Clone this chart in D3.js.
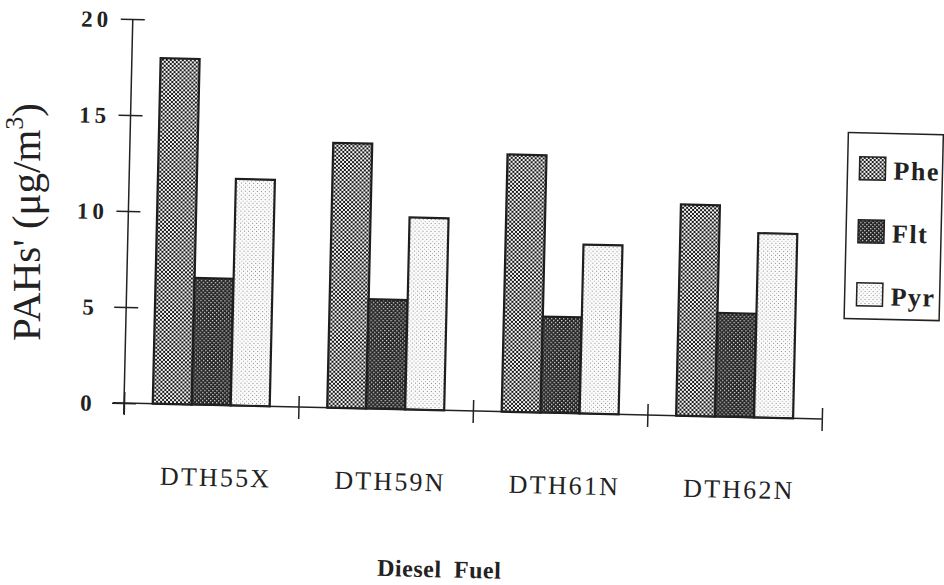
<!DOCTYPE html>
<html>
<head>
<meta charset="utf-8">
<script src="https://cdn.jsdelivr.net/npm/d3@7"></script>
<style>
  html, body { margin: 0; padding: 0; background: #ffffff; }
  svg { display: block; }
</style>
</head>
<body>
<script>
// ---- data ----
const categories = ["DTH55X", "DTH59N", "DTH61N", "DTH62N"];
const seriesNames = ["Phe", "Flt", "Pyr"];
const pheValues = [18.0, 13.8, 13.4, 11.0];
const fltValues = [6.6, 5.7, 5.0, 5.4];
const pyrValues = [11.8, 10.0, 8.8, 9.6];
const yTickValues = [0, 5, 10, 15, 20];
const yTickLabels = ["0", "5", "10", "15", "20"];
const yTitle = "PAHs' (\u03bcg/m";
const xTitle = "Diesel Fuel";

const seriesValues = { Phe: pheValues, Flt: fltValues, Pyr: pyrValues };

const W = 944, H = 585;
const serif = "'Liberation Serif', 'DejaVu Serif', serif";
const svg = d3.select("body").append("svg").attr("width", W).attr("height", H);

// ---- patterns ----
const defs = svg.append("defs");
const pPhe = defs.append("pattern").attr("id", "pat-Phe").attr("patternUnits", "userSpaceOnUse")
  .attr("width", 4).attr("height", 4);
pPhe.append("rect").attr("width", 4).attr("height", 4).attr("fill", "#f4f4f4");
pPhe.append("rect").attr("x", 0).attr("y", 0).attr("width", 2).attr("height", 2).attr("fill", "#1a1a1a");
pPhe.append("rect").attr("x", 2).attr("y", 2).attr("width", 2).attr("height", 2).attr("fill", "#1a1a1a");
const pFlt = defs.append("pattern").attr("id", "pat-Flt").attr("patternUnits", "userSpaceOnUse")
  .attr("width", 4).attr("height", 4);
pFlt.append("rect").attr("width", 4).attr("height", 4).attr("fill", "#222");
pFlt.append("rect").attr("x", 0).attr("y", 0).attr("width", 1.3).attr("height", 1.3).attr("fill", "#ddd");
pFlt.append("rect").attr("x", 2).attr("y", 2).attr("width", 1.3).attr("height", 1.3).attr("fill", "#ddd");
const pPyr = defs.append("pattern").attr("id", "pat-Pyr").attr("patternUnits", "userSpaceOnUse")
  .attr("width", 4).attr("height", 4);
pPyr.append("rect").attr("width", 4).attr("height", 4).attr("fill", "#fbfbfb");
pPyr.append("rect").attr("x", 0).attr("y", 0).attr("width", 1).attr("height", 1).attr("fill", "#888");
pPyr.append("rect").attr("x", 2).attr("y", 2).attr("width", 1).attr("height", 1).attr("fill", "#b0b0b0");

// ---- frame (scan is slightly rotated) ----
const x0 = 124, y0 = 403;
const g = svg.append("g").attr("transform", `rotate(1.31, ${x0}, ${y0})`);

const x = d3.scaleBand().domain(categories).range([124, 822]).padding(0);
const xs = d3.scaleBand().domain(seriesNames).range([0, x.bandwidth()])
  .paddingInner(0).paddingOuter(0.737);
const y = d3.scaleLinear().domain([0, 20]).range([403, 19]);
const xIdx = d3.scaleLinear().domain([0, categories.length]).range([124, 822]);

// ---- bars ----
const groups = g.append("g").selectAll("g").data(categories).join("g")
  .attr("transform", d => `translate(${x(d)},0)`);
groups.selectAll("rect")
  .data((c, i) => seriesNames.map(s => ({ s, v: seriesValues[s][i] })))
  .join("rect")
  .attr("x", d => xs(d.s))
  .attr("y", d => y(d.v))
  .attr("width", xs.bandwidth())
  .attr("height", d => y(0) - y(d.v))
  .attr("fill", d => `url(#pat-${d.s})`)
  .attr("stroke", "#1e1e1e")
  .attr("stroke-width", 2.2);

// ---- y axis ----
const yAxis = g.append("g").attr("transform", `translate(${x0},0)`)
  .call(d3.axisLeft(y).tickValues(yTickValues).tickFormat((d, i) => yTickLabels[i])
    .tickSize(12).tickSizeOuter(0));
yAxis.select(".domain").remove();
yAxis.selectAll(".tick line").attr("x1", -12).attr("x2", 12)
  .attr("stroke", "#222").attr("stroke-width", 1.5);
yAxis.selectAll(".tick text")
  .attr("x", -36).attr("dy", "0.35em")
  .attr("text-anchor", "middle")
  .attr("font-family", serif).attr("font-weight", "bold")
  .attr("font-size", 23).attr("letter-spacing", 4).attr("fill", "#222");
g.append("line").attr("x1", x0).attr("x2", x0).attr("y1", y(20)).attr("y2", y0 + 11)
  .attr("stroke", "#222").attr("stroke-width", 1.5);

// ---- x axis ----
const xAxisTicks = g.append("g").attr("transform", `translate(0,${y0})`)
  .call(d3.axisBottom(xIdx).tickValues(d3.range(categories.length + 1)).tickFormat("").tickSize(12));
xAxisTicks.select(".domain").remove();
xAxisTicks.selectAll(".tick line").attr("y1", -11).attr("y2", 12)
  .attr("stroke", "#222").attr("stroke-width", 1.5);
g.append("line").attr("x1", x0 - 11).attr("x2", 822).attr("y1", y0).attr("y2", y0)
  .attr("stroke", "#222").attr("stroke-width", 1.5);

const xAxisLabels = g.append("g").attr("transform", `translate(0,${y0})`)
  .call(d3.axisBottom(x).tickSize(0));
xAxisLabels.select(".domain").remove();
xAxisLabels.selectAll(".tick text")
  .attr("y", 81).attr("dy", 0).attr("dx", 6)
  .attr("font-family", serif).attr("font-size", 26)
  .attr("letter-spacing", 2.2).attr("fill", "#222");

// ---- x title ----
g.append("text").attr("x", 443).attr("y", y0 + 167)
  .attr("text-anchor", "middle")
  .attr("font-family", serif).attr("font-weight", "bold").attr("font-size", 24)
  .attr("word-spacing", 6).attr("letter-spacing", 0.5)
  .attr("fill", "#222").text(xTitle);

// ---- legend ----
const leg = g.append("g").attr("transform", "translate(842,116)");
leg.append("rect").attr("width", 95).attr("height", 186)
  .attr("fill", "#fff").attr("stroke", "#222").attr("stroke-width", 1.5);
const li = leg.selectAll("g.item").data(seriesNames).join("g").attr("class", "item")
  .attr("transform", (d, i) => `translate(12, ${24 + 63 * i})`);
li.append("rect").attr("width", 26).attr("height", 23)
  .attr("fill", d => `url(#pat-${d})`).attr("stroke", "#222").attr("stroke-width", 1.5);
li.append("text").attr("x", 34).attr("y", 22)
  .attr("font-family", serif).attr("font-weight", "bold").attr("font-size", 26)
  .attr("letter-spacing", 1.5).attr("fill", "#222").text(d => d);

// ---- y title ----
const yt = svg.append("text").attr("transform", "translate(40,222) rotate(-90)")
  .attr("text-anchor", "middle")
  .attr("font-family", serif).attr("font-size", 41).attr("fill", "#222");
yt.append("tspan").text(yTitle);
yt.append("tspan").attr("font-size", 26).attr("dy", -17).text("3");
yt.append("tspan").attr("dy", 17).text(")");
</script>
</body>
</html>
